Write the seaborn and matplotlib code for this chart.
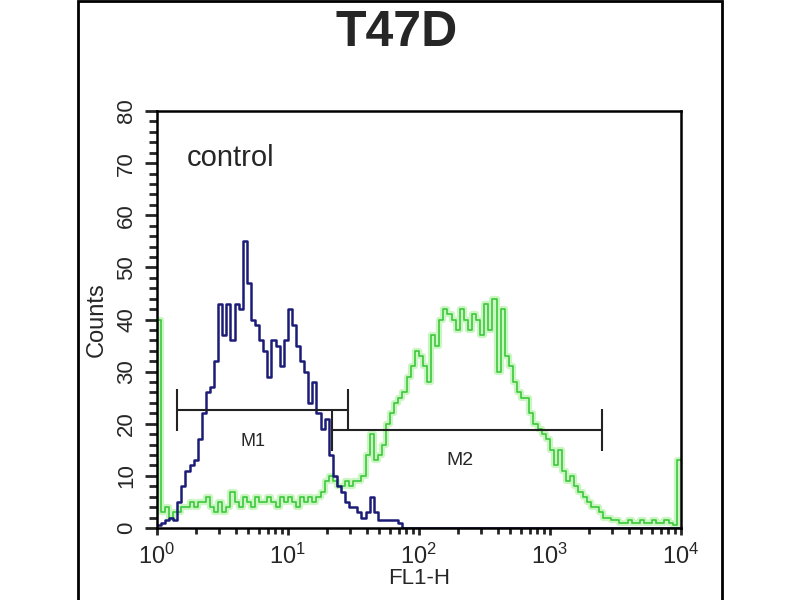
import numpy as np
import pandas as pd
import seaborn as sns
import matplotlib.pyplot as plt
from matplotlib.patches import Rectangle
from matplotlib.ticker import MultipleLocator, LogLocator, LogFormatterSciNotation

# 128 log channels over 4 decades, counts
n_bins = 128
blue_counts = [0.5, 1, 1.5, 2, 1.5, 5, 8, 11, 12, 13,
               17, 22, 26, 27, 32, 43, 37, 43, 36, 43,
               42, 55, 47, 40, 39, 36, 34, 29, 36, 35,
               31, 36, 42, 39, 35, 32, 30, 24, 28, 22,
               19, 21, 14, 10, 8, 7, 5, 4, 4, 3,
               2, 3, 6, 3, 1.5, 1.5, 1.5, 1.5, 1.5, 1] + [0] * 68
green_counts = [40, 3, 4, 2, 3, 3, 4, 4, 5, 4,
                5, 5, 6, 4, 3, 5, 3, 4, 7, 5,
                4, 6, 5, 4, 6, 5, 5, 6, 5, 4,
                6, 5, 6, 5, 4, 6, 5, 6, 5, 6,
                7, 9, 10, 9, 8, 8, 9, 8, 9, 9,
                10, 14, 18, 13, 14, 16, 20, 22, 24, 25,
                26, 29, 31, 34, 33, 31, 28, 37, 35, 40,
                42, 41, 40, 38, 42, 40, 38, 41, 40, 37,
                43, 38, 44, 30, 42, 33, 31, 28, 26, 25,
                25, 22, 20, 19, 18, 17, 15, 12, 15, 11,
                9, 10, 8, 7, 6, 5, 4, 4, 3, 2,
                2, 1.5, 1.5, 1, 1, 1.5, 1, 1, 1.5, 1,
                1, 1.5, 1, 1, 1.5, 1, 0.5, 13]

# markers: (left, right, level)
m1 = (1.42, 28.7, 22.6)
m2 = (21.7, 2500, 18.8)

channels = 10 ** ((np.arange(n_bins) + 0.5) / 32)
df = pd.DataFrame({'FL1-H': channels, 'control': blue_counts, 'sample': green_counts})

sns.set_style('white')
plt.rcParams['font.family'] = ['Liberation Sans', 'DejaVu Sans']

fig = plt.figure(figsize=(8, 6), dpi=100)
ax = fig.add_axes([0.196, 0.12, 0.655, 0.695])

sns.histplot(data=df, x='FL1-H', weights='sample', bins=n_bins, binrange=(0, 4),
             log_scale=True, element='step', fill=False, color='#b6f2a8',
             linewidth=4.5, alpha=0.7, ax=ax)
sns.histplot(data=df, x='FL1-H', weights='sample', bins=n_bins, binrange=(0, 4),
             log_scale=True, element='step', fill=False, color='#3cc83c',
             linewidth=1.2, ax=ax)
sns.histplot(data=df, x='FL1-H', weights='control', bins=n_bins, binrange=(0, 4),
             log_scale=True, element='step', fill=False, color='#1c1c78',
             linewidth=1.8, ax=ax)

for left, right, level in (m1, m2):
    ax.hlines(level, left, right, color='#222222', linewidth=1.5, zorder=5)
    ax.vlines([left, right], level - 4, level + 4, color='#222222', linewidth=1.5, zorder=5)
ax.text(5.4, 16.5, 'M1', ha='center', va='center', fontsize=13)
ax.text(205, 13, 'M2', ha='center', va='center', fontsize=14)
ax.text(1.7, 71, 'control', ha='left', va='center', fontsize=21)

ax.set_xlim(1, 1e4)
ax.set_ylim(0, 80)
ax.yaxis.set_major_locator(MultipleLocator(10))
ax.yaxis.set_minor_locator(MultipleLocator(2))
ax.xaxis.set_major_locator(LogLocator(base=10, numticks=10))
ax.xaxis.set_minor_locator(LogLocator(base=10, subs=np.arange(2, 10), numticks=10))
ax.xaxis.set_major_formatter(LogFormatterSciNotation())
ax.tick_params(axis='y', which='major', direction='out', length=9, width=2,
               labelsize=16, pad=5, left=True)
ax.tick_params(axis='y', which='minor', direction='out', length=6, width=2, left=True)
ax.tick_params(axis='x', which='major', direction='out', length=5, width=2,
               labelsize=17, pad=6, bottom=True)
ax.tick_params(axis='x', which='minor', direction='out', length=4, width=2, bottom=True)
for label in ax.get_yticklabels():
    label.set_rotation(90)
    label.set_va('center')
ax.set_xlabel('FL1-H', fontsize=16, labelpad=0)
ax.set_ylabel('Counts', fontsize=17, labelpad=6)
for spine in ax.spines.values():
    spine.set_linewidth(1.8)
    spine.set_color('black')

fig.text(0.496, 0.945, 'T47D', ha='center', va='center', fontsize=36, fontweight='bold')
fig.add_artist(Rectangle((78 / 800, -0.01), 644 / 800, 1.008, transform=fig.transFigure,
                         fill=False, edgecolor='black', linewidth=2))

fig.savefig('out.png', dpi=100)
